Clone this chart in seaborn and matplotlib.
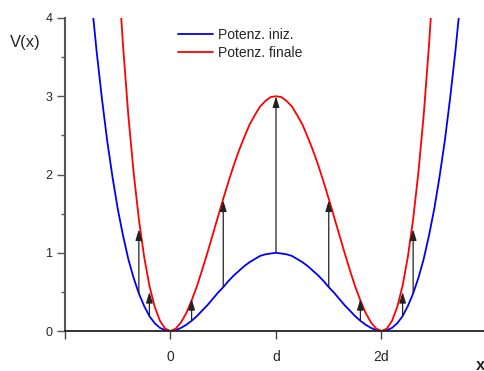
import matplotlib
matplotlib.use("Agg")
import matplotlib.pyplot as plt
import pandas as pd
import seaborn as sns
from matplotlib.ticker import MultipleLocator

# sampled x positions (units of d)
x_vals = [-0.8, -0.75, -0.7, -0.65, -0.6, -0.55, -0.5, -0.45, -0.4, -0.35,
          -0.3, -0.25, -0.2, -0.15, -0.1, -0.05, 0.0, 0.05, 0.1, 0.15,
          0.2, 0.25, 0.3, 0.35, 0.4, 0.45, 0.5, 0.55, 0.6, 0.65,
          0.7, 0.75, 0.8, 0.85, 0.9, 0.95, 1.0, 1.05, 1.1, 1.15,
          1.2, 1.25, 1.3, 1.35, 1.4, 1.45, 1.5, 1.55, 1.6, 1.65,
          1.7, 1.75, 1.8, 1.85, 1.9, 1.95, 2.0, 2.05, 2.1, 2.15,
          2.2, 2.25, 2.3, 2.35, 2.4, 2.45, 2.5, 2.55, 2.6, 2.65,
          2.7, 2.75, 2.8]

# initial potential (blue)
v_iniz = [5.02, 4.25, 3.57, 2.97, 2.43, 1.97, 1.56, 1.22, 0.92, 0.68,
          0.48, 0.32, 0.19, 0.10, 0.04, 0.01, 0.00, 0.01, 0.04, 0.08,
          0.13, 0.19, 0.26, 0.33, 0.41, 0.49, 0.56, 0.64, 0.71, 0.77,
          0.83, 0.88, 0.92, 0.96, 0.98, 0.99, 1.00, 0.99, 0.98, 0.96,
          0.92, 0.88, 0.83, 0.77, 0.71, 0.64, 0.56, 0.49, 0.41, 0.33,
          0.26, 0.19, 0.13, 0.08, 0.04, 0.01, 0.00, 0.01, 0.04, 0.10,
          0.19, 0.32, 0.48, 0.68, 0.92, 1.22, 1.56, 1.97, 2.43, 2.97,
          3.57, 4.25, 5.02]

# final potential (red)
v_finale = [15.05, 12.76, 10.72, 8.90, 7.30, 5.90, 4.69, 3.65, 2.76, 2.03,
            1.43, 0.95, 0.58, 0.31, 0.13, 0.03, 0.00, 0.03, 0.11, 0.23,
            0.39, 0.57, 0.78, 1.00, 1.23, 1.46, 1.69, 1.91, 2.12, 2.31,
            2.48, 2.64, 2.76, 2.87, 2.94, 2.99, 3.00, 2.99, 2.94, 2.87,
            2.76, 2.64, 2.48, 2.31, 2.12, 1.91, 1.69, 1.46, 1.23, 1.00,
            0.78, 0.57, 0.39, 0.23, 0.11, 0.03, 0.00, 0.03, 0.13, 0.31,
            0.58, 0.95, 1.43, 2.03, 2.76, 3.65, 4.69, 5.90, 7.30, 8.90,
            10.72, 12.76, 15.05]

# arrows: position, start (blue) and tip
arrow_x = [-0.3, -0.2, 0.2, 0.5, 1.0, 1.5, 1.8, 2.2, 2.3]
arrow_from = [0.48, 0.19, 0.13, 0.56, 1.00, 0.56, 0.13, 0.19, 0.48]
arrow_to = [1.30, 0.50, 0.41, 1.67, 3.00, 1.67, 0.41, 0.50, 1.30]

x_ticks = [-1, 0, 1, 2, 3]
x_ticklabels = ["", "0", "d", "2d", ""]
y_ticks = [0, 1, 2, 3, 4]

sns.set_style("ticks")
plt.rcParams["font.family"] = ["Liberation Sans", "DejaVu Sans"]

df = pd.DataFrame({"x": x_vals, "iniz": v_iniz, "finale": v_finale})

fig = plt.figure(figsize=(4.85, 3.71), dpi=100)
ax = fig.add_axes([65 / 485, 40 / 371, 422 / 485, 313 / 371])

sns.lineplot(data=df, x="x", y="iniz", color="#0000ff", lw=1.3,
             label="Potenz. iniz.", ax=ax, estimator=None)
sns.lineplot(data=df, x="x", y="finale", color="#ff0000", lw=1.3,
             label="Potenz. finale", ax=ax, estimator=None)

for xa, y0, y1 in zip(arrow_x, arrow_from, arrow_to):
    ax.annotate("", xy=(xa, y1), xytext=(xa, y0),
                arrowprops=dict(arrowstyle="-|>,head_length=0.65,head_width=0.2",
                                color="#222222", lw=0.9, mutation_scale=10,
                                shrinkA=0, shrinkB=0))

ax.set_xlim(-1.0, 3.0)
ax.set_ylim(0, 4)
ax.set_xticks(x_ticks)
ax.set_xticklabels(x_ticklabels, fontsize=10)
ax.set_yticks(y_ticks)
ax.yaxis.set_minor_locator(MultipleLocator(0.5))
ax.tick_params(axis="y", labelsize=9, length=6, width=1, color="#555555", pad=3)
ax.tick_params(axis="y", which="minor", length=3, width=1, color="#555555")
ax.tick_params(axis="x", length=6, width=1, color="#444444", pad=8)
ax.set_xlabel("")
ax.set_ylabel("")
sns.despine(ax=ax)
ax.spines["left"].set_color("#555555")
ax.spines["left"].set_linewidth(1.5)
ax.spines["bottom"].set_color("#222222")
ax.spines["bottom"].set_linewidth(1.3)

ax.legend(loc="upper left", bbox_to_anchor=(0.268, 0.968), frameon=False,
          fontsize=10, borderpad=0, handlelength=2.5, handletextpad=0.4,
          labelspacing=0.3, borderaxespad=0)

fig.text(10 / 485, 1 - 43 / 371, "V(x)", fontsize=12, va="center", ha="left")
fig.text(476 / 485, 1 - 365 / 371, "x", fontsize=12, fontweight="bold",
         va="center", ha="left")

fig.savefig("out.png", dpi=100)
